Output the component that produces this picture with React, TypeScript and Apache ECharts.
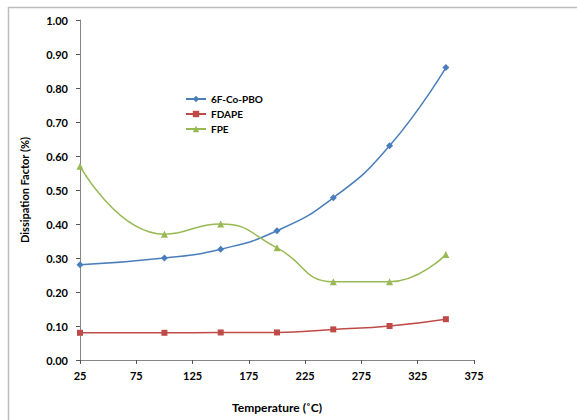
import React, { useEffect, useRef } from "react";
import * as echarts from "echarts";

const temperatures = [25, 100, 150, 200, 250, 300, 350];
const pbo = [0.28, 0.3, 0.326, 0.38, 0.477, 0.63, 0.86];
const fdape = [0.08, 0.08, 0.081, 0.081, 0.09, 0.1, 0.12];
const fpe = [0.57, 0.37, 0.4, 0.33, 0.23, 0.23, 0.31];
const seriesNames = ["6F-Co-PBO", "FDAPE", "FPE"];

const FONT = "Lato";

export default function App() {
  const ref = useRef<HTMLDivElement>(null);
  useEffect(() => {
    if (!ref.current) return;
    const chart = echarts.init(ref.current, null, { renderer: "svg" });
    const mk = (arr: number[]) => temperatures.map((t, i) => [t, arr[i]]);
    const axisLine = { show: true, lineStyle: { color: "#868686", width: 1 } };
    chart.setOption({
      animation: false,
      backgroundColor: "#fff",
      grid: { left: 80, right: 103, top: 20, bottom: 60 },
      legend: {
        orient: "vertical",
        left: 180,
        top: 89,
        itemGap: 5,
        itemWidth: 20,
        itemHeight: 8,
        textStyle: { fontFamily: FONT, fontWeight: "bold", fontSize: 10, color: "#000" },
        data: seriesNames,
      },
      xAxis: {
        type: "value",
        min: 25,
        max: 375,
        interval: 50,
        axisLine,
        axisTick: { show: true, length: 4, lineStyle: { color: "#555" } },
        splitLine: { show: false },
        axisLabel: { fontFamily: FONT, fontWeight: "bold", fontSize: 11, color: "#000", margin: 10 },
        name: "Temperature (˚C)",
        nameLocation: "middle",
        nameGap: 41,
        nameTextStyle: { fontFamily: FONT, fontWeight: "bold", fontSize: 12, color: "#000" },
      },
      yAxis: {
        type: "value",
        min: 0,
        max: 1,
        interval: 0.1,
        axisLine,
        axisTick: { show: true, length: 4, lineStyle: { color: "#555" } },
        splitLine: { show: false },
        axisLabel: {
          fontFamily: FONT,
          fontWeight: "bold",
          fontSize: 11,
          color: "#000",
          margin: 12,
          formatter: (v: number) => v.toFixed(2),
        },
        name: "Dissipation Factor (%)",
        nameLocation: "middle",
        nameGap: 50,
        nameTextStyle: { fontFamily: FONT, fontWeight: "bold", fontSize: 11, color: "#000" },
      },
      graphic: [
        { type: "line", shape: { x1: 8, y1: 7.5, x2: 577, y2: 7.5 }, style: { stroke: "#bdbdbd", lineWidth: 1.5 } },
        { type: "line", shape: { x1: 8.5, y1: 7, x2: 8.5, y2: 420 }, style: { stroke: "#bdbdbd", lineWidth: 1.5 } },
      ],
      series: [
        {
          name: seriesNames[0],
          type: "line",
          smooth: 0.5,
          data: mk(pbo),
          symbol: "diamond",
          symbolSize: 7,
          lineStyle: { color: "#4a7ebb", width: 1.5 },
          itemStyle: { color: "#4a7ebb" },
        },
        {
          name: seriesNames[1],
          type: "line",
          smooth: 0.5,
          data: mk(fdape),
          symbol: "rect",
          symbolSize: 6,
          lineStyle: { color: "#be4b48", width: 1.5 },
          itemStyle: { color: "#be4b48" },
        },
        {
          name: seriesNames[2],
          type: "line",
          smooth: 0.5,
          data: mk(fpe),
          symbol: "triangle",
          symbolSize: 7,
          lineStyle: { color: "#98b954", width: 1.5 },
          itemStyle: { color: "#98b954" },
        },
      ],
    });
    return () => chart.dispose();
  }, []);
  return <div ref={ref} style={{ width: 577, height: 420, position: "absolute", left: 0, top: 0 }} />;
}
